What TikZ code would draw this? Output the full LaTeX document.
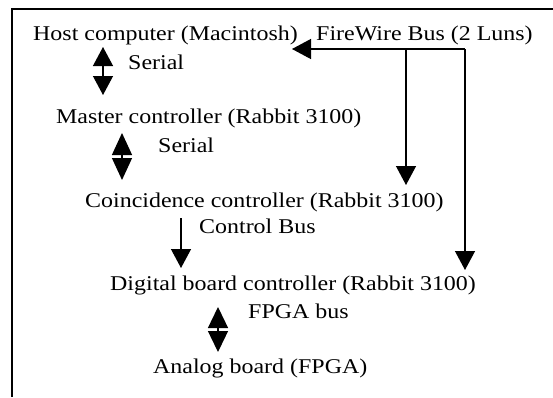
\documentclass[tikz,border=0pt]{standalone}
\usepackage{fontspec}
\setmainfont[FakeStretch=1.14]{Liberation Serif}
\usetikzlibrary{arrows.meta}

\tikzset{
  lbl/.style={anchor=base west,inner sep=0pt},
  onetip/.style={line width=1.3pt,-{Triangle[length=19pt,width=20pt]}},
  twotip/.style={line width=1.3pt,{Triangle[length=#1,width=20pt]}-{Triangle[length=#1,width=20pt]}},
}

\begin{document}
\begin{tikzpicture}[x=1pt,y=-1pt,font=\fontsize{21}{24}\selectfont]
\useasboundingbox (0,0) rectangle (553,397);

% frame (cut at right and bottom)
\draw[line width=1.2pt] (12,397) -- (12,9) -- (553,9);

% the boards
\node[lbl] (host) at (33,40) {Host computer (Macintosh)};
\node[lbl] (fw) at (316,40) {FireWire Bus (2 Luns)};
\node[lbl] (master) at (56,123) {Master controller (Rabbit 3100)};
\node[lbl] (coin) at (85,207) {Coincidence controller (Rabbit 3100)};
\node[lbl] (digi) at (110,290) {Digital board controller (Rabbit 3100)};
\node[lbl] (ana) at (153,373) {Analog board (FPGA)};

% bus labels
\node[lbl] (ser1) at (128,69) {Serial};
\node[lbl] (ser2) at (158,152) {Serial};
\node[lbl] (cbus) at (199,233) {Control Bus};
\node[lbl] (fbus) at (248,318) {FPGA bus};

% end points of the links
\coordinate (s1a) at (103,47);
\coordinate (s1b) at (103,95);
\coordinate (s2a) at (122,133);
\coordinate (s2b) at (122,180);
\coordinate (cba) at (181,218);
\coordinate (cbb) at (181,268);
\coordinate (fba) at (218,307);
\coordinate (fbb) at (218,352);
\coordinate (fwl) at (406,49);
\coordinate (fwr) at (465,49);
\coordinate (fwtip) at (292,49);
\coordinate (fwl2) at (406,185);
\coordinate (fwr2) at (465,270);

\draw[twotip=19pt] (s1a) -- (s1b);
\draw[twotip=22pt] (s2a) -- (s2b);
\draw[onetip] (cba) -- (cbb);
\draw[twotip=21pt] (fba) -- (fbb);

% firewire bus
\draw[onetip] (fwr) -- (fwtip);
\draw[onetip] (fwl) -- (fwl2);
\draw[onetip] (fwr) -- (fwr2);

\end{tikzpicture}
\end{document}
